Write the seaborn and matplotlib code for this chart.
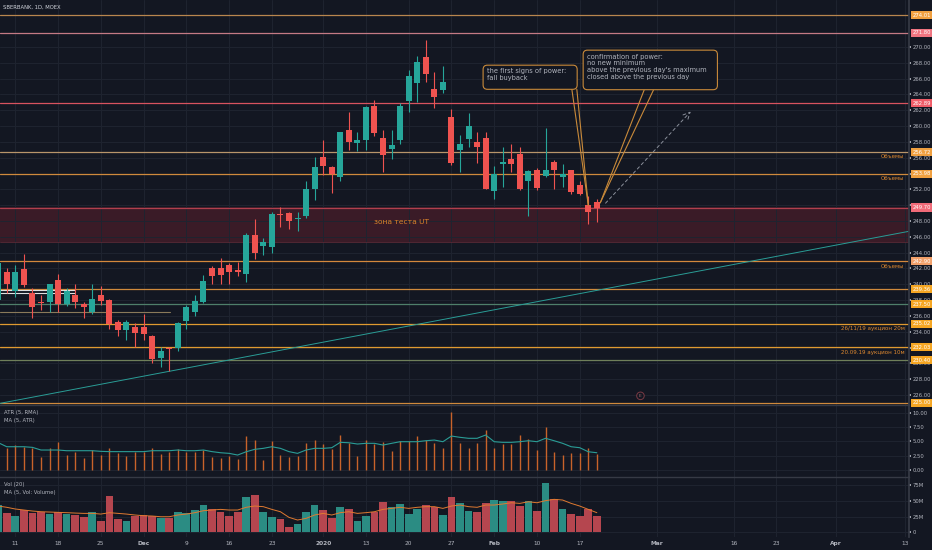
import numpy as np
import matplotlib
matplotlib.use('Agg')
import matplotlib.pyplot as plt
import matplotlib.transforms as mtrans
from matplotlib import font_manager
from matplotlib.patches import FancyBboxPatch
import seaborn as sns

# daily bars, bar 0 = 7 Nov 2019 ... bar 70 = 19 Feb 2020
opens = [238.0, 241.5, 239.1, 241.9, 238.9, 237.8, 237.8, 240.5, 237.5, 238.6,
         237.5, 236.5, 238.7, 238.0, 235.2, 234.2, 234.6, 234.6, 233.5, 230.7,
         232.0, 231.9, 235.4, 236.5, 237.8, 242.0, 242.0, 242.5, 241.8, 241.3,
         246.2, 244.8, 244.7, 248.9, 249.0, 248.2, 248.6, 252.1, 256.1, 254.8,
         253.6, 259.5, 257.8, 258.3, 262.5, 258.5, 257.1, 258.2, 263.2, 265.5,
         268.7, 264.7, 264.5, 261.1, 257.0, 258.4, 258.0, 258.5, 251.8, 255.2,
         255.9, 256.5, 253.1, 254.5, 253.7, 255.4, 253.6, 254.4, 252.5, 250.0,
         250.4]
highs = [243.0, 242.0, 242.4, 243.8, 239.5, 238.6, 240.1, 241.3, 239.5, 240.1,
         237.8, 240.1, 239.8, 238.2, 235.5, 235.5, 235.1, 236.2, 233.6, 232.1,
         232.1, 235.2, 237.4, 238.6, 241.2, 242.3, 243.3, 242.7, 242.8, 246.5,
         248.3, 245.8, 249.2, 249.8, 249.1, 249.2, 253.0, 256.1, 258.2, 255.0,
         259.3, 261.8, 259.3, 262.5, 263.3, 259.5, 259.5, 262.9, 267.1, 268.9,
         270.9, 266.9, 267.6, 262.1, 258.9, 261.6, 259.3, 259.2, 254.9, 257.4,
         257.7, 257.4, 254.5, 254.7, 259.7, 255.7, 255.2, 254.5, 253.1, 251.1,
         250.8]
lows = [237.5, 238.9, 238.4, 239.7, 235.8, 236.8, 236.5, 236.5, 237.3, 237.0,
        235.8, 236.3, 237.4, 234.4, 233.5, 233.0, 232.1, 233.0, 230.1, 229.5,
        229.1, 231.6, 234.3, 236.0, 237.6, 240.1, 240.1, 240.1, 241.1, 240.3,
        243.2, 243.7, 244.0, 247.3, 247.0, 246.7, 248.4, 250.7, 253.8, 251.5,
        253.0, 257.0, 256.8, 257.0, 258.7, 254.2, 255.9, 257.7, 261.8, 263.0,
        265.6, 262.3, 264.2, 255.1, 254.2, 257.4, 255.3, 252.0, 250.8, 252.3,
        254.2, 251.9, 248.6, 251.9, 253.6, 252.1, 252.3, 251.4, 251.3, 247.6,
        247.9]
closes = [242.7, 240.1, 241.5, 239.9, 237.1, 237.6, 240.0, 237.5, 239.2, 237.7,
          237.1, 238.1, 237.9, 235.0, 234.2, 235.2, 233.9, 233.7, 230.6, 231.6,
          231.8, 235.1, 237.1, 237.9, 240.4, 241.0, 241.2, 241.5, 241.6, 246.2,
          244.0, 245.3, 248.9, 248.7, 248.0, 248.4, 252.0, 254.8, 254.9, 254.0,
          259.2, 258.0, 258.2, 262.4, 259.1, 256.3, 257.6, 262.5, 266.3, 268.1,
          266.6, 263.7, 265.6, 255.3, 257.7, 260.0, 257.3, 252.1, 253.9, 255.5,
          255.2, 252.0, 254.3, 252.2, 254.5, 254.5, 254.0, 251.7, 251.4, 249.2,
          249.7]

# ATR panel (true range bars and its MA)
atr = [4.0, 3.81, 4.38, 4.09, 3.92, 2.25, 3.81, 4.96, 2.65, 3.12,
       2.19, 3.52, 2.65, 3.81, 3.05, 2.48, 3.12, 3.22, 3.81, 2.79,
       3.12, 3.64, 3.12, 3.22, 3.52, 2.25, 2.19, 2.48, 1.91, 5.94,
       5.25, 1.78, 5.08, 2.65, 2.25, 2.48, 4.73, 5.25, 4.56, 3.64,
       6.12, 4.73, 2.54, 5.25, 4.52, 4.96, 3.38, 5.08, 5.08, 5.94,
       5.25, 4.73, 3.92, 10.16, 4.73, 3.92, 4.73, 6.99, 3.92, 4.56,
       4.56, 6.12, 5.43, 3.52, 7.56, 3.22, 2.65, 3.05, 3.05, 3.81,
       2.77]
atr_ma = [4.8, 4.09, 4.09, 4.09, 3.98, 3.52, 3.52, 3.52, 3.40, 3.40,
          3.40, 3.40, 3.29, 3.24, 3.24, 3.24, 3.24, 3.24, 3.40, 3.40,
          3.40, 3.52, 3.40, 3.40, 3.52, 3.24, 3.05, 2.94, 2.65, 3.22,
          3.64, 3.81, 4.09, 3.81, 3.24, 2.94, 3.52, 3.81, 3.81, 3.92,
          4.85, 4.78, 4.56, 4.68, 4.68, 4.38, 4.68, 4.96, 4.96, 4.96,
          5.13, 5.25, 4.96, 5.94, 5.72, 5.55, 5.55, 6.12, 4.96, 4.85,
          4.85, 4.96, 5.13, 4.96, 5.55, 5.13, 4.68, 4.09, 3.92, 3.22,
          3.05]

# volume, millions
volume = [43.2, 30.0, 25.8, 35.3, 31.1, 32.6, 28.9, 32.6, 28.4, 27.4,
          24.8, 31.6, 17.9, 57.4, 21.6, 18.4, 26.3, 27.4, 26.3, 22.1,
          22.7, 32.6, 31.1, 35.3, 43.2, 36.3, 32.6, 25.8, 32.6, 55.4,
          58.5, 32.6, 23.7, 20.6, 7.9, 13.2, 31.6, 42.7, 35.3, 22.1,
          40.6, 37.4, 17.9, 25.8, 31.6, 48.4, 39.4, 44.3, 28.9, 37.4,
          43.2, 39.4, 27.4, 55.4, 46.8, 34.2, 31.6, 46.8, 51.1, 49.5,
          50.1, 42.1, 49.5, 34.2, 78.5, 52.2, 36.3, 28.9, 26.3, 36.3,
          25.8]
vol_ma = [41.6, 39.6, 36.9, 35.3, 33.7, 32.6, 32.1, 31.6, 31.1, 30.5,
          30.0, 30.0, 28.9, 31.1, 30.0, 28.9, 27.4, 26.3, 25.8, 24.7,
          24.7, 27.4, 28.9, 31.1, 34.2, 35.3, 36.3, 35.3, 35.3, 39.6,
          41.6, 40.6, 36.3, 32.6, 23.7, 19.5, 22.1, 27.4, 30.0, 27.4,
          31.1, 32.6, 30.0, 31.1, 32.6, 36.3, 37.9, 39.6, 37.9, 39.6,
          40.6, 40.6, 37.9, 41.6, 43.2, 40.6, 39.6, 43.2, 43.2, 44.8,
          46.8, 45.8, 48.4, 46.8, 50.1, 52.2, 51.1, 45.8, 41.6, 36.3,
          31.1]

# x axis labels (bar index of each date label, future bars included)
tick_bars = [2, 7, 12, 17, 22, 27, 32, 38, 43, 48, 53, 58, 63, 68, 77, 86, 91, 98, 106]
tick_labels = ['11', '18', '25', 'Dec', '9', '16', '23', '2020', '13', '20', '27',
               'Feb', '10', '17', 'Mar', '16', '23', 'Apr', '13']

# horizontal levels drawn on the chart
levels = [274.01, 271.80, 262.89, 256.72, 253.98, 249.70, 242.90,
          239.36, 237.50, 235.02, 232.03, 230.40, 225.00]
level_notes = {256.72: 'Объемы', 253.98: 'Объемы', 242.90: 'Объемы',
               235.02: '26/11/19 аукцион 20м', 232.03: '20.09.19 аукцион 10м'}
zone = (245.4, 249.75)
trend_start = (0.2, 224.95)
trend_end = (106.5, 246.7)
forecast = ((70.8, 250.0), (81.2, 262.1))

BG = '#131722'
GRID = '#1f2430'
TXT = '#b2b5be'
UP, DOWN = '#26a69a', '#ef5350'
line_cols = ['#b8864e', '#c57a84', '#d9535f', '#b8956a', '#d08a3c', '#b0404e', '#d4883c',
             '#d08a3c', '#4f7f6a', '#e09a30', '#e09a30', '#6f7f5a', '#d08a3c']
label_cols = ['#f0a040', '#ef7480', '#f05c68', '#f0a040', '#f0a040', '#f06a78', '#f2a06a',
              '#f5a623', '#f5a623', '#f5a623', '#f5a623', '#f5a623', '#f5a623']

sns.set_theme(style='dark', rc={'axes.facecolor': BG, 'figure.facecolor': BG,
                                'axes.edgecolor': '#363a45', 'text.color': TXT,
                                'xtick.color': TXT, 'ytick.color': TXT})
plt.rcParams['font.family'] = ['DejaVu Sans']

# price scale text must fit the narrow right gutter
installed = {f.name for f in font_manager.fontManager.ttflist}
if 'Liberation Sans Narrow' in installed:
    AXFONT, AXSIZE = 'Liberation Sans Narrow', 4.6
else:
    AXFONT, AXSIZE = 'DejaVu Sans', 3.8

idx = np.arange(len(opens))
o, h, l, c = map(np.array, (opens, highs, lows, closes))
up = c >= o
cols = np.where(up, UP, DOWN)

fig = plt.figure(figsize=(9.32, 5.5), dpi=100)
ax = fig.add_axes([0, 0.2636, 0.9753, 0.7364])
ax_a = fig.add_axes([0, 0.1327, 0.9753, 0.1309], sharex=ax)
ax_v = fig.add_axes([0, 0.0236, 0.9753, 0.1091], sharex=ax)

for a in (ax, ax_a, ax_v):
    a.set_facecolor(BG)
    a.yaxis.tick_right()
    a.set_xticks(tick_bars)
    a.grid(True, color=GRID, lw=0.7)
    a.tick_params(axis='y', labelsize=AXSIZE, length=1.5, pad=1.0, colors=TXT)
    a.tick_params(axis='x', length=0, labelbottom=False)
    for s in ('left', 'bottom'):
        a.spines[s].set_visible(False)
    a.spines['top'].set_color('#363a45')
    a.spines['right'].set_color('#363a45')
    a.spines['top'].set_linewidth(1.0)
ax.spines['top'].set_visible(False)
ax.set_xlim(0.21, 106.5)

# ---- price panel
ax.axhspan(*zone, color='#3a1b27', zorder=0.5, lw=0)
ax.axhline(zone[0], color='#5a2a36', lw=0.6, zorder=0.6)
for lv, lc in zip(levels, line_cols):
    ax.axhline(lv, color=lc, lw=0.9, zorder=1)
ax.plot([0.2, 9.0], [239.28, 239.28], color='#e0e0e0', lw=0.8, zorder=1.2)
ax.plot([0.2, 9.0], [238.94, 238.94], color='#e0e0e0', lw=0.8, zorder=1.2)
ax.plot([0.2, 20.1], [236.53, 236.53], color='#8a7a5a', lw=0.8, zorder=1.2)
ax.plot([trend_start[0], trend_end[0]], [trend_start[1], trend_end[1]],
        color='#2a9d96', lw=0.7, zorder=1.1)

ax.vlines(idx, l, h, colors=cols, lw=0.8, zorder=2)
ax.bar(idx, np.maximum(np.abs(c - o), 0.12), bottom=np.minimum(o, c), width=0.7,
       color=cols, lw=0, zorder=3)

ax.set_ylim(224.74, 275.94)
price_ticks = np.arange(226, 271, 2)
ax.set_yticks(price_ticks)
# the 250.00 mark is hidden behind the 249.70 level tag in the original
ax.set_yticklabels(['' if abs(v - 249.70) < 0.5 else f'{v:.2f}' for v in price_ticks])
for t in ax.get_yticklabels():
    t.set_family(AXFONT)

tr = mtrans.blended_transform_factory(ax.transAxes, ax.transData)
for lv, bc in zip(levels, label_cols):
    ax.text(1.0035, lv, f'{lv:.2f}', transform=tr, ha='left', va='center',
            fontsize=AXSIZE, family=AXFONT, color='white', clip_on=False, zorder=10,
            bbox=dict(boxstyle='square,pad=0.3', fc=bc, ec='none'))
for lv, note in level_notes.items():
    ax.text(0.995, lv - 0.6, note, transform=tr, ha='right', va='center',
            fontsize=4.0, color='#e08a30')

ax.text(47.2, 247.9, 'зона теста UT', ha='center', va='center', fontsize=5.4, color='#d9822b')

# annotation boxes with callouts
box_ec = '#c98a3a'
for (x0, y0, w, hh) in [(56.7, 264.65, 11.0, 3.05), (68.4, 264.6, 15.7, 5.0)]:
    ax.add_patch(FancyBboxPatch((x0, y0), w, hh, boxstyle='round,pad=0,rounding_size=0.5',
                                mutation_aspect=1.08, fc=BG, ec=box_ec, lw=0.8, zorder=6))
ax.text(57.2, 267.3, 'the first signs of power:\nfall buyback', ha='left', va='top',
        fontsize=4.8, color=TXT, linespacing=1.15, zorder=7)
ax.text(68.9, 269.15, 'confirmation of power:\nno new minimum\n'
        "above the previous day's maximum\nclosed above the previous day",
        ha='left', va='top', fontsize=4.8, color=TXT, linespacing=1.12, zorder=7)
for bx in (67.08, 67.66):
    ax.plot([bx, 69.0], [264.65, opens[69]], color=box_ec, lw=0.8, zorder=5)
for bx in (75.53, 76.62):
    ax.plot([bx, 70.4], [264.56, opens[70] - 0.1], color=box_ec, lw=0.8, zorder=5)
ax.annotate('', xy=forecast[1], xytext=forecast[0],
            arrowprops=dict(arrowstyle='->', color='#8a8f9a', lw=0.7, linestyle=(0, (3, 3))))
ax.text(75.1, 225.9, 'E', ha='center', va='center', fontsize=3.2, color='#9a6a70',
        bbox=dict(boxstyle='circle,pad=0.4', fc=BG, ec='#7a3a44', lw=0.7))

# ---- ATR panel
ax_a.vlines(idx, 0, atr, colors='#c8632a', lw=1.0, zorder=2)
sns.lineplot(x=idx, y=atr_ma, ax=ax_a, color='#2a9d96', lw=0.8, zorder=3)
ax_a.set_ylim(-1.16, 11.32)
ax_a.set_yticks([0, 2.5, 5, 7.5, 10])
ax_a.yaxis.set_major_formatter(matplotlib.ticker.FormatStrFormatter('%.2f'))
ax_a.set_ylabel('')
for t in ax_a.get_yticklabels():
    t.set_family(AXFONT)
ax_a.text(0.004, 0.9, 'ATR (5, RMA)', transform=ax_a.transAxes, fontsize=3.8, color=TXT, va='center')
ax_a.text(0.004, 0.79, 'MA (5, ATR)', transform=ax_a.transAxes, fontsize=3.8, color=TXT, va='center')

# ---- volume panel
vol_cols = np.where(up, '#2b8c83', '#b5464f')
ax_v.bar(idx, volume, width=0.9, color=vol_cols, lw=0, zorder=2)
sns.lineplot(x=idx, y=vol_ma, ax=ax_v, color='#e07a30', lw=0.7, zorder=3)
ax_v.set_ylim(-7.4, 87.5)
ax_v.set_yticks([0, 25, 50, 75])
ax_v.set_yticklabels(['0', '25M', '50M', '75M'])
ax_v.set_ylabel('')
for t in ax_v.get_yticklabels():
    t.set_family(AXFONT)
ax_v.tick_params(axis='x', labelbottom=True, labelsize=4.2, pad=3, colors=TXT)
ax_v.set_xticklabels(tick_labels)
for t in ax_v.get_xticklabels():
    if not t.get_text().isdigit() or len(t.get_text()) == 4:
        t.set_fontweight('bold')
ax_v.text(0.004, 0.88, 'Vol (20)', transform=ax_v.transAxes, fontsize=3.8, color=TXT, va='center')
ax_v.text(0.004, 0.75, 'MA (5, Vol: Volume)', transform=ax_v.transAxes, fontsize=3.8, color=TXT, va='center')
ax_v.set_xlim(0.21, 106.5)

fig.text(3 / 932, 1 - 7 / 550, 'SBERBANK, 1D, MOEX', fontsize=3.8, color='#d1d4dc', va='center')

fig.savefig('out.png', dpi=100, facecolor=BG)
